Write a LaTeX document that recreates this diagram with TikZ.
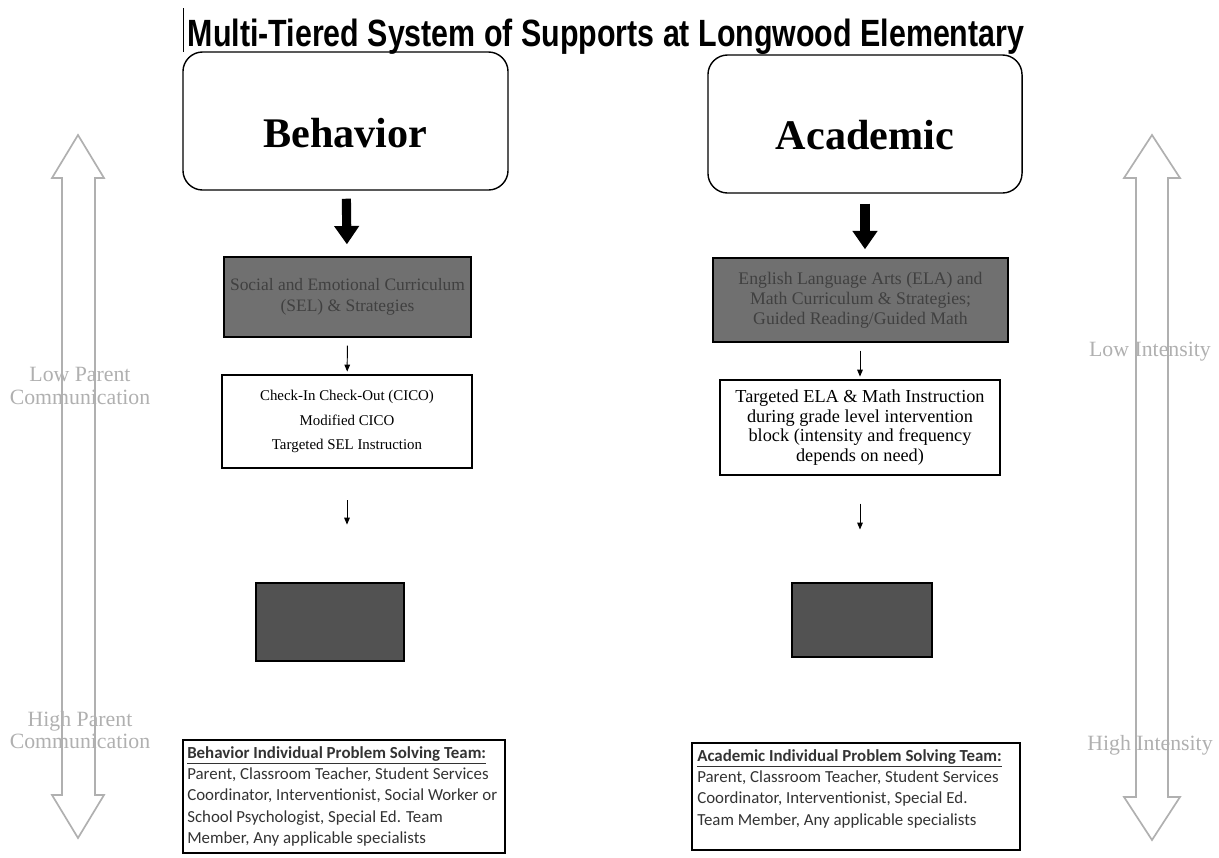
\documentclass[tikz,border=0pt]{standalone}
\usepackage{fontspec}
\setmainfont{Liberation Serif}
\newfontfamily\titlefont{Liberation Sans}
\newfontfamily\teamfont{Carlito}
\usetikzlibrary{arrows.meta}
\definecolor{tiergray}{HTML}{707070}
\definecolor{tierdark}{HTML}{525252}
\definecolor{sidegray}{HTML}{B0B0B0}

\begin{document}
\begin{tikzpicture}[x = 0.025cm, y = -0.025cm,
  every node/.style = {inner sep = 0pt},
  headbox/.style = {draw, line width = 1pt, rounded corners = 14pt},
  headtext/.style = {font = \fontsize{30}{34}\selectfont\bfseries},
  tierone/.style = {draw, line width = 1pt, fill = tiergray, text = black!75, align = center},
  tiertwo/.style = {draw, line width = 0.8pt, align = center},
  tierthree/.style = {draw, line width = 1pt, fill = tierdark},
  teambox/.style = {draw, line width = 0.8pt},
  teamtext/.style = {anchor = north west, align = left, font = \teamfont\fontsize{12}{15.2}\selectfont, text = black!80},
  sidelabel/.style = {align = center, text = sidegray, font = \fontsize{15.5}{16}\selectfont},
  sidearrow/.style = {draw = sidegray, line width = 1.2pt, fill = white},
  bigarrow/.style = {-{Triangle[width = 17pt, length = 13pt]}, line width = 6.5pt},
  smallarrow/.style = {-{Triangle[width = 4pt, length = 5pt]}, line width = 0.7pt}]
\useasboundingbox (0, 0) rectangle (1219, 857);

% side arrows
\draw[sidearrow] (78, 135) -- (104, 178) -- (95, 178) -- (95, 795) -- (104, 795) -- (78, 838)
  -- (52, 795) -- (62, 795) -- (62, 178) -- (52, 178) -- cycle;
\draw[sidearrow] (1152, 135) -- (1180, 178) -- (1168, 178) -- (1168, 797) -- (1180, 797) -- (1152, 840)
  -- (1124, 797) -- (1136, 797) -- (1136, 178) -- (1124, 178) -- cycle;
\node[sidelabel] (lowparent) at (80, 386) {Low Parent\\Communication};
\node[sidelabel] (highparent) at (80, 730) {High Parent\\Communication};
\node[sidelabel] (lowint) at (1150, 352) {Low Intensity};
\node[sidelabel] (highint) at (1150, 745) {High Intensity};

% title
\draw[line width = 0.6pt] (183, 8) -- (183, 52);
\node (title) at (606, 37) {\titlefont\bfseries\fontsize{27}{30}\selectfont\scalebox{0.8}[1]{Multi-Tiered System of Supports at Longwood Elementary}};

% behavior column
\node[headbox, minimum width = 8.125cm, minimum height = 3.45cm] (behavior) at (345.5, 121) {};
\node[headtext] (behaviortext) at (345.5, 133) {Behavior};
\node[tierone, minimum width = 6.175cm, minimum height = 2cm, font = \fontsize{12.4}{14.5}\selectfont] (selcurr) at (347.5, 297)
  {Social and Emotional Curriculum\\(SEL) \& Strategies};
\node[tiertwo, minimum width = 6.25cm, minimum height = 2.325cm, font = \fontsize{10.6}{17.5}\selectfont] (cico) at (347, 421.5)
  {Check-In Check-Out (CICO)\\Modified CICO\\Targeted SEL Instruction};
\node[tierthree, minimum width = 3.7cm, minimum height = 1.95cm] (behsolve) at (330, 622) {};
\node[teambox, minimum width = 8.05cm, minimum height = 2.825cm] (behteam) at (344, 796.5) {};
\node[teamtext] (behteamtext) at (187, 746) {\underline{\textbf{Behavior Individual Problem Solving Team:}}\\
  Parent, Classroom Teacher, Student Services\\Coordinator, Interventionist, Social Worker or\\
  School Psychologist, Special Ed. Team\\Member, Any applicable specialists};

\draw[bigarrow, shorten <= 5.7pt, shorten >= 8.5pt] (behavior) -- (selcurr);
\draw[smallarrow, shorten <= 5.7pt, shorten >= 2pt] (selcurr) -- (cico);
\draw[smallarrow, shorten <= 22.5pt, shorten >= 41pt] (cico.south) -- (cico.south |- behsolve.north);

% academic column
\node[headbox, minimum width = 7.85cm, minimum height = 3.45cm] (academic) at (865, 124) {};
\node[headtext] (academictext) at (865, 135) {Academic};
\node[tierone, minimum width = 7.375cm, minimum height = 2.1cm, font = \fontsize{12.6}{14.2}\selectfont] (elacurr) at (860.5, 300)
  {English Language Arts (ELA) and\\Math Curriculum \& Strategies;\\Guided Reading/Guided Math};
\node[tiertwo, minimum width = 7cm, minimum height = 2.375cm, font = \fontsize{13}{13.8}\selectfont] (elatarget) at (860, 427.5)
  {Targeted ELA \& Math Instruction\\during grade level intervention\\block (intensity and frequency\\depends on need)};
\node[tierthree, minimum width = 3.5cm, minimum height = 1.85cm] (acasolve) at (862, 620) {};
\node[teambox, minimum width = 8.2cm, minimum height = 2.675cm] (acateam) at (856, 796.5) {};
\node[teamtext] (acateamtext) at (697, 749) {\underline{\textbf{Academic Individual Problem Solving Team:}}\\
  Parent, Classroom Teacher, Student Services\\Coordinator, Interventionist, Special Ed.\\
  Team Member, Any applicable specialists};

\draw[bigarrow, shorten <= 7pt, shorten >= 5.7pt] (academic) -- (academic |- elacurr.north);
\draw[smallarrow, shorten <= 5.7pt, shorten >= 2pt] (elacurr.south -| elatarget.north) -- (elatarget.north);
\draw[smallarrow, shorten <= 20pt, shorten >= 37.5pt] (elatarget.south) -- (elatarget.south |- acasolve.north);
\end{tikzpicture}
\end{document}
